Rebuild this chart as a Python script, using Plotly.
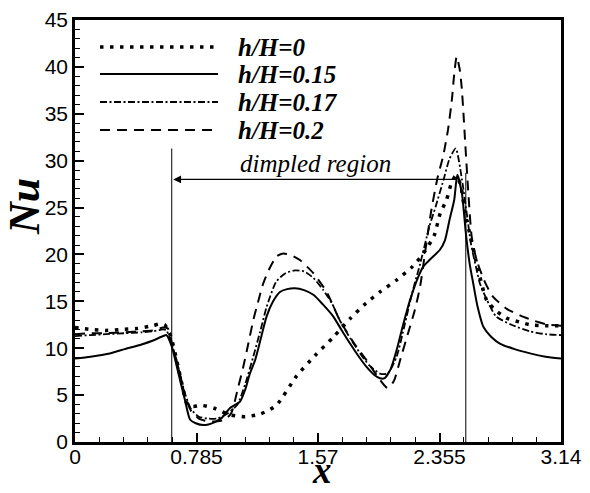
import plotly.graph_objects as go

# ---------------- data ----------------
x_h0 = [0, 0.1, 0.2, 0.3, 0.4, 0.5, 0.55, 0.58, 0.62, 0.66, 0.70, 0.72, 0.76, 0.82, 0.9, 1.0,
        1.1, 1.2, 1.3, 1.43, 1.55, 1.67, 1.78, 1.88, 1.97, 2.08, 2.18, 2.25, 2.32, 2.36, 2.40,
        2.43, 2.46, 2.49, 2.52, 2.56, 2.60, 2.66, 2.72, 2.79, 2.87, 2.94, 3.04, 3.14]
nu_h0 = [12.2, 12.0, 11.9, 12.0, 12.1, 12.4, 12.6, 12.5, 11.2, 8.5, 5.5, 4.2, 3.8, 3.9, 3.6, 2.9,
         2.7, 3.0, 3.9, 7.0, 9.2, 11.2, 13.2, 14.8, 16.0, 17.3, 18.7, 20.1, 22.0, 24.4, 25.8,
         27.5, 28.4, 27.5, 24.5, 21.5, 18.7, 15.1, 14.0, 13.2, 12.8, 12.5, 12.4, 12.4]

x_h015 = [0, 0.1, 0.215, 0.32, 0.43, 0.5, 0.57, 0.59, 0.625, 0.67, 0.71, 0.743, 0.78, 0.83, 0.9,
          0.95, 1.0, 1.066, 1.1, 1.13, 1.163, 1.2, 1.238, 1.28, 1.324, 1.37, 1.42, 1.48, 1.54,
          1.6, 1.668, 1.72, 1.777, 1.83, 1.884, 1.93, 1.97, 2.0, 2.04, 2.078, 2.12, 2.164, 2.21,
          2.25, 2.29, 2.358, 2.39, 2.42, 2.45, 2.47, 2.50, 2.525, 2.55, 2.573, 2.60, 2.638, 2.69,
          2.745, 2.84, 2.94, 3.04, 3.14]
nu_h015 = [8.9, 9.1, 9.4, 9.9, 10.4, 10.8, 11.3, 11.4, 10.2, 7.2, 4.5, 2.4, 2.0, 1.8, 2.1,
           2.6, 3.6, 4.3, 5.6, 7.3, 8.7, 11.0, 13.4, 15.0, 16.0, 16.3, 16.4, 16.2, 15.7,
           14.7, 13.4, 12.0, 10.5, 9.2, 8.0, 7.2, 6.8, 6.8, 7.8, 9.8, 12.5, 15.1, 17.3,
           18.7, 19.4, 20.5, 21.5, 23.7, 25.8, 28.5, 26.5, 22.3, 19.0, 16.9, 14.5, 12.3, 11.2,
           10.5, 9.9, 9.45, 9.1, 8.9]

x_h017 = [0, 0.1, 0.2, 0.32, 0.43, 0.5, 0.57, 0.59, 0.625, 0.67, 0.71, 0.75, 0.8, 0.86, 0.92,
          0.99, 1.05, 1.1, 1.15, 1.2, 1.238, 1.3, 1.36, 1.421, 1.48, 1.54, 1.604, 1.66, 1.71,
          1.78, 1.84, 1.9, 1.97, 2.02, 2.078, 2.13, 2.18, 2.23, 2.29, 2.33, 2.38, 2.42, 2.46,
          2.50, 2.53, 2.56, 2.60, 2.616, 2.66, 2.72, 2.82, 2.94, 3.04, 3.14]
nu_h017 = [11.3, 11.4, 11.5, 11.6, 11.7, 11.8, 12.0, 11.9, 10.5, 7.8, 5.2, 3.5, 2.7, 2.5, 2.5,
           3.1, 4.0, 6.2, 9.0, 12.0, 14.4, 17.1, 18.0, 18.3, 18.2, 17.5, 16.2, 14.8, 13.0,
           11.0, 9.5, 8.2, 7.3, 7.3, 9.1, 12.5, 16.0, 19.0, 23.0, 25.1, 27.9, 30.2, 31.3,
           28.0, 24.5, 21.0, 18.0, 16.9, 15.2, 13.4, 12.5, 11.8, 11.5, 11.4]

x_h02 = [0, 0.1, 0.2, 0.32, 0.43, 0.5, 0.57, 0.6, 0.625, 0.67, 0.71, 0.75, 0.8, 0.86, 0.92,
         0.97, 1.01, 1.055, 1.087, 1.12, 1.152, 1.174, 1.216, 1.26, 1.303, 1.346, 1.40, 1.453,
         1.54, 1.626, 1.71, 1.80, 1.884, 1.95, 2.02, 2.06, 2.1, 2.15, 2.196, 2.23, 2.26, 2.30,
         2.34, 2.38, 2.41, 2.435, 2.45, 2.466, 2.485, 2.498, 2.51, 2.52, 2.54, 2.563, 2.595,
         2.65, 2.70, 2.79, 2.875, 2.97, 3.06, 3.14]
nu_h02 = [11.5, 11.6, 11.6, 11.7, 11.8, 11.9, 12.2, 12.1, 10.6, 7.8, 5.0, 3.3, 2.5, 2.2, 2.2,
          2.4, 3.1, 5.9, 8.0, 10.5, 13.0, 14.4, 16.9, 18.6, 19.8, 20.1, 19.9, 19.4,
          18.0, 16.0, 13.0, 10.6, 8.7, 7.1, 5.75, 6.5, 8.7, 11.5, 14.1, 16.6, 20.0, 24.5,
          28.0, 30.6, 33.3, 36.5, 39.2, 41.1, 39.8, 37.9, 35.0, 32.2, 26.9, 21.9, 19.4,
          17.0, 15.5, 14.2, 13.5, 12.9, 12.5, 12.4]

series_names = ["h/H= 0", "h/H= 0.15", "h/H= 0.17", "h/H= 0.2"]
series_x = [x_h0, x_h015, x_h017, x_h02]
series_y = [nu_h0, nu_h015, nu_h017, nu_h02]

x_tickvals = [0, 0.785, 1.57, 2.355, 3.14]
x_ticktext = ["0", "0.785", "1.57", "2.355", "3.14"]
y_tickvals = [0, 5, 10, 15, 20, 25, 30, 35, 40, 45]

region_left = 0.625
region_right = 2.525
region_left_top = 31.3
region_right_top = 28.7
arrow_y = 28.0
arrow_tip_x = 0.635
arrow_tail_x = 2.48
region_label = "dimpled region"

# ---------------- styles ----------------
dashes = ["3.5px,6.5px", "solid", "7px,2.5px,2px,2.5px", "10px,7px"]
widths = [3.5, 2, 1.8, 2]

fig = go.Figure()
for xs, ys, name, d, w in zip(series_x, series_y, series_names, dashes, widths):
    fig.add_trace(go.Scatter(x=xs, y=ys, mode="lines", name=name,
                             line=dict(color="black", width=w, dash=d, shape="spline",
                                       smoothing=0.6),
                             showlegend=False))

shapes = []
annotations = []

shapes.append(dict(type="line", xref="x", yref="y", x0=region_left, x1=region_left,
                   y0=0, y1=region_left_top, line=dict(color="black", width=1)))
shapes.append(dict(type="line", xref="x", yref="y", x0=region_right, x1=region_right,
                   y0=0, y1=region_right_top, line=dict(color="black", width=1)))
annotations.append(dict(x=arrow_tip_x, y=arrow_y, ax=arrow_tail_x, ay=arrow_y,
                        xref="x", yref="y", axref="x", ayref="y", text="",
                        showarrow=True, arrowhead=2, arrowsize=1.2, arrowwidth=1.3,
                        arrowcolor="black"))
annotations.append(dict(x=1.555, y=29.7, xref="x", yref="y", text=region_label,
                        showarrow=False, xanchor="center", yanchor="middle",
                        font=dict(family="Liberation Serif", size=25, color="black",
                                  style="italic")))

L, R, T, B = 75, 561, 20, 442
def px2paper(px, py):
    return (px - L) / (R - L), (B - py) / (B - T)

rows_py = [47, 74, 102, 130]
for name, d, w, py in zip(series_names, dashes, widths, rows_py):
    x0, yy = px2paper(100, py)
    x1, _ = px2paper(218, py)
    shapes.append(dict(type="line", xref="paper", yref="paper", x0=x0, x1=x1, y0=yy, y1=yy,
                       line=dict(color="black", width=w, dash=d)))
    tx, ty = px2paper(236, py)
    annotations.append(dict(x=tx, y=ty, xref="paper", yref="paper",
                            text="<b><i>%s</i></b>" % name.replace("= ", "="),
                            showarrow=False, xanchor="left", yanchor="middle",
                            font=dict(family="Liberation Serif", size=25, color="black")))

nx, ny = px2paper(24, 207)
annotations.append(dict(x=nx, y=ny, xref="paper", yref="paper", text="<b><i>Nu</i></b>",
                        textangle=-90, showarrow=False, xanchor="center", yanchor="middle",
                        font=dict(family="Liberation Serif", size=44, color="black")))
xx, xy = px2paper(322, 493)
annotations.append(dict(x=xx, y=xy, xref="paper", yref="paper", text="<b><i>x</i></b>",
                        showarrow=False, xanchor="center", yanchor="bottom",
                        font=dict(family="Liberation Serif", size=37, color="black")))

tickfont = dict(family="Liberation Sans", size=21, color="black")
fig.update_layout(
    width=590, height=493,
    margin=dict(l=L, r=590 - R, t=T, b=493 - B, pad=0, autoexpand=False),
    paper_bgcolor="white", plot_bgcolor="white",
    shapes=shapes, annotations=annotations,
    xaxis=dict(range=[0, 3.14], tickvals=x_tickvals, ticktext=x_ticktext,
               ticks="inside", ticklen=9, tickwidth=2, tickcolor="black",
               showline=True, linewidth=2.5, linecolor="black", mirror=True,
               showgrid=False, zeroline=False, tickfont=tickfont, automargin=False,
               ticklabelstandoff=-6,
               minor=dict(dtick=0.157, tick0=0, ticks="inside", ticklen=5, tickwidth=1.2,
                          tickcolor="black", showgrid=False)),
    yaxis=dict(range=[0, 45], tickvals=y_tickvals,
               ticks="inside", ticklen=9, tickwidth=2, tickcolor="black",
               showline=True, linewidth=2.5, linecolor="black", mirror=True,
               showgrid=False, zeroline=False, tickfont=tickfont, automargin=False,
               minor=dict(dtick=1, tick0=0, ticks="inside", ticklen=5, tickwidth=1.2,
                          tickcolor="black", showgrid=False)),
)

fig.write_html("out.html", config={"displayModeBar": False},
               post_script="document.body.style.margin='0';document.body.style.overflow='hidden';")
